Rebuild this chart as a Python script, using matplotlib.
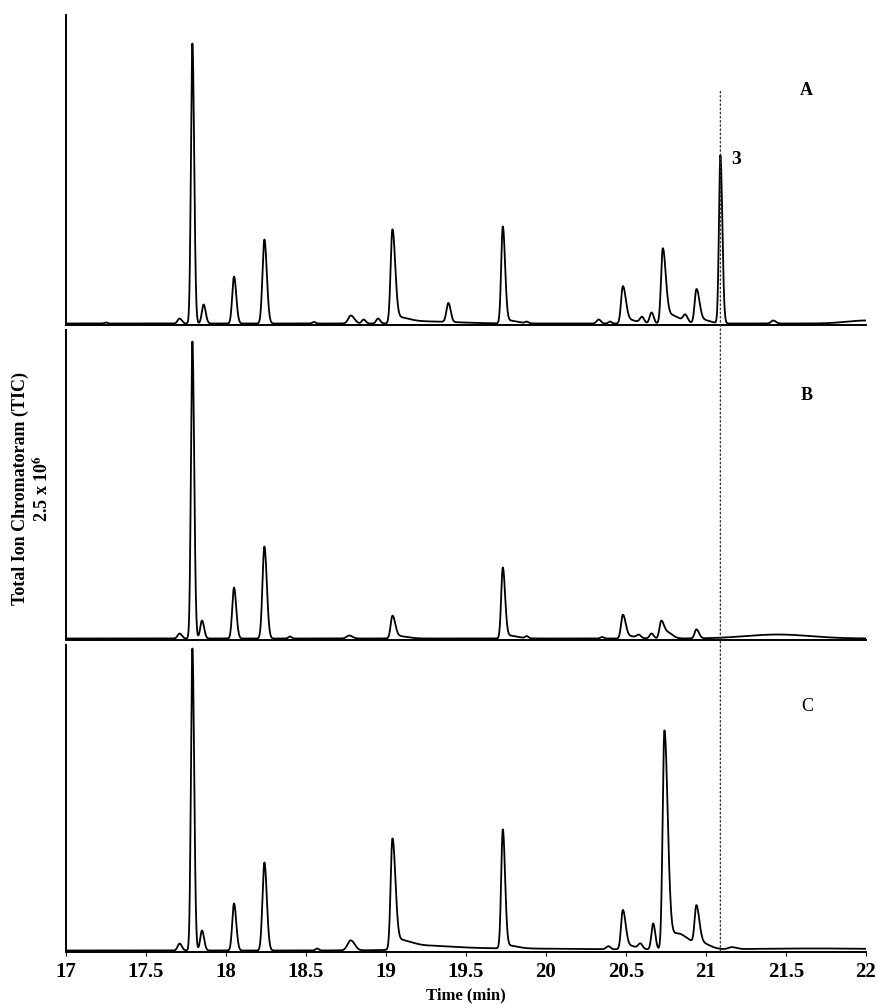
import numpy as np
import matplotlib.pyplot as plt
from matplotlib.patches import ConnectionPatch

plt.rcParams['font.family'] = ['Liberation Serif', 'DejaVu Serif']
plt.rcParams['mathtext.fontset'] = 'stix'

# retention time grid (min)
t = np.linspace(17, 22, 4001)

# peak tables: time (min), height (a.u.), left / right width (min)
rt_a = [17.25, 17.71, 17.79, 17.86, 18.05, 18.24, 18.55, 18.78, 18.86, 18.95, 19.04, 19.07,
        19.25, 19.39, 19.73, 19.76, 19.88, 20.33, 20.40, 20.48, 20.51, 20.60, 20.66, 20.73,
        20.77, 20.87, 20.94, 20.97, 21.09, 21.42, 22.0]
h_a = [1, 5, 280, 19, 47, 84, 1.5, 8, 4, 5, 92, 6, 2, 19, 96, 3, 1.5, 4, 2, 36, 4, 6, 11, 74,
       9, 7, 33, 4, 168, 3, 3]
sl_a = [0.01, 0.012, 0.009, 0.011, 0.011, 0.012, 0.01, 0.016, 0.011, 0.011, 0.011, 0.02,
        0.1, 0.012, 0.010, 0.02, 0.01, 0.013, 0.01, 0.011, 0.02, 0.013, 0.012, 0.011,
        0.02, 0.013, 0.011, 0.02, 0.009, 0.013, 0.12]
sr_a = [0.01, 0.014, 0.011, 0.013, 0.014, 0.015, 0.01, 0.022, 0.013, 0.013, 0.017, 0.07,
        0.2, 0.014, 0.014, 0.06, 0.01, 0.013, 0.01, 0.018, 0.05, 0.013, 0.013, 0.018,
        0.06, 0.015, 0.018, 0.05, 0.012, 0.016, 0.12]

rt_b = [17.71, 17.79, 17.85, 18.05, 18.24, 18.40, 18.77, 19.04, 19.07, 19.73, 19.76, 19.88,
        20.35, 20.48, 20.51, 20.58, 20.66, 20.72, 20.76, 20.94, 21.45]
h_b = [5, 297, 18, 51, 92, 2, 3, 22, 2.5, 70, 3, 2, 1.5, 23, 2.5, 3, 5, 17, 6, 9, 4]
sl_b = [0.012, 0.009, 0.011, 0.011, 0.012, 0.01, 0.016, 0.011, 0.02, 0.010, 0.02, 0.01,
        0.01, 0.011, 0.02, 0.013, 0.012, 0.011, 0.02, 0.011, 0.2]
sr_b = [0.014, 0.011, 0.013, 0.014, 0.015, 0.01, 0.02, 0.017, 0.06, 0.014, 0.06, 0.01,
        0.01, 0.017, 0.05, 0.013, 0.013, 0.017, 0.03, 0.016, 0.2]

rt_c = [17.71, 17.79, 17.85, 18.05, 18.24, 18.57, 18.78, 19.04, 19.07, 19.20, 19.70, 19.73,
        19.76, 20.39, 20.48, 20.51, 20.59, 20.67, 20.74, 20.78, 20.86, 20.94, 20.98, 21.16,
        21.70]
h_c = [7, 302, 20, 47, 88, 2, 10, 108, 9, 4, 2, 118, 3, 3, 38, 4, 5, 26, 217, 12, 9, 38, 4,
       2, 2]
sl_c = [0.012, 0.009, 0.011, 0.011, 0.012, 0.01, 0.02, 0.011, 0.02, 0.08, 0.4, 0.010,
        0.02, 0.013, 0.011, 0.02, 0.013, 0.011, 0.011, 0.02, 0.05, 0.011, 0.02, 0.02, 0.5]
sr_c = [0.014, 0.011, 0.013, 0.014, 0.015, 0.01, 0.024, 0.018, 0.07, 0.2, 0.7, 0.014,
        0.06, 0.013, 0.017, 0.05, 0.013, 0.013, 0.02, 0.06, 0.08, 0.018, 0.05, 0.03, 0.5]

panel_names = ['A', 'B', 'C']
marker_rt = 21.09   # peak "3"


def trace(rts, hs, sls, srs):
    y = np.zeros_like(t)
    for r, h, sl, sr in zip(rts, hs, sls, srs):
        s = np.where(t < r, sl, sr)
        y += h * np.exp(-0.5 * ((t - r) / s) ** 2)
    return y


traces = [trace(rt_a, h_a, sl_a, sr_a),
          trace(rt_b, h_b, sl_b, sr_b),
          trace(rt_c, h_c, sl_c, sr_c)]

fig = plt.figure(figsize=(8.77, 10.06), dpi=100)
left, width = 66 / 877, 800 / 877
boxes = [(1 - 325 / 1006, 310 / 1006), (1 - 640 / 1006, 310 / 1006), (1 - 952 / 1006, 307 / 1006)]
tops = [308.5, 308.5, 305.5]

axes = []
for i, (b, h) in enumerate(boxes):
    ax = fig.add_axes([left, b, width, h])
    ax.plot(t, traces[i], color='black', lw=1.3)
    ax.set_xlim(17, 22)
    ax.set_ylim(-1.5, tops[i])
    for side in ['top', 'right']:
        ax.spines[side].set_visible(False)
    for side in ['left', 'bottom']:
        ax.spines[side].set_linewidth(1.4)
    ax.set_yticks([])
    ax.set_xticks(np.arange(17, 22.01, 0.5))
    ax.tick_params(axis='x', length=3, width=0.8, direction='out', pad=4)
    if i < 2:
        ax.tick_params(axis='x', labelbottom=False, length=0)
    weight = 'normal' if i == 2 else 'bold'
    ax.text(0.926, [0.758, 0.79, 0.80][i], panel_names[i], transform=ax.transAxes,
            ha='center', va='center', fontsize=13, fontweight=weight)
    axes.append(ax)

ax_c = axes[2]
ax_c.set_xticklabels(['17', '17.5', '18', '18.5', '19', '19.5', '20', '20.5', '21', '21.5', '22'])
for lab in ax_c.get_xticklabels():
    lab.set_fontsize(15)
    lab.set_fontweight('bold')
ax_c.set_xlabel('Time (min)', fontsize=12, fontweight='bold', labelpad=4)

# peak 3 label
h3 = h_a[rt_a.index(marker_rt)]
axes[0].text(marker_rt + 0.1, h3 - 4, '3', ha='center', va='center', fontsize=14, fontweight='bold')

# dotted marker line through all three panels
con = ConnectionPatch(xyA=(marker_rt, 232), coordsA=axes[0].transData,
                      xyB=(marker_rt, -1.5), coordsB=ax_c.transData,
                      linestyle=(0, (1, 2)), color='#333333', lw=1.0)
fig.add_artist(con)

fig.text(20 / 877, 1 - 489 / 1006, 'Total Ion Chromatoram (TIC)', rotation=90,
         ha='center', va='center', fontsize=13, fontweight='bold')
fig.text(42 / 877, 1 - 489 / 1006, r'2.5 x 10$^{\mathbf{6}}$', rotation=90,
         ha='center', va='center', fontsize=13, fontweight='bold')

fig.savefig('out.png', dpi=100)
